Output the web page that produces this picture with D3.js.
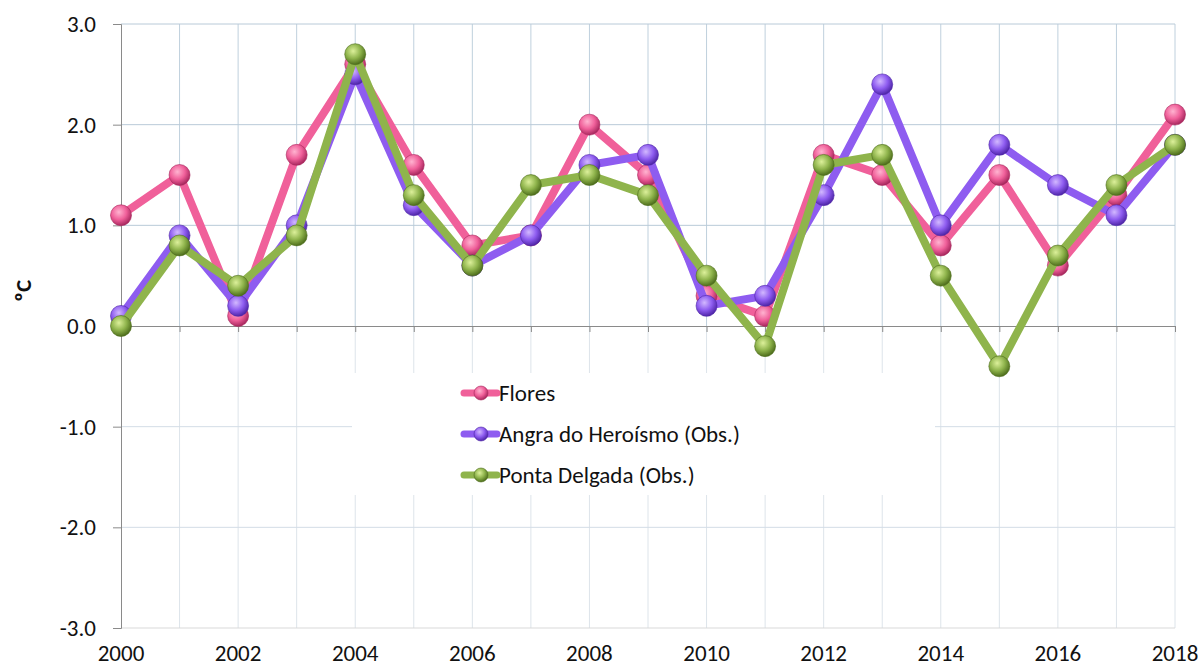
<!DOCTYPE html>
<html><head><meta charset="utf-8">
<script src="https://cdn.jsdelivr.net/npm/d3@7/dist/d3.min.js"></script>
<style>body{margin:0;background:#fff}svg{display:block}text{font-family:Carlito,"Liberation Sans",Arial,sans-serif}</style>
</head><body><svg id="c" width="1198" height="666"></svg>
<script>
const years = [2000,2001,2002,2003,2004,2005,2006,2007,2008,2009,2010,2011,2012,2013,2014,2015,2016,2017,2018];
const flores = [1.1,1.5,0.1,1.7,2.6,1.6,0.8,0.9,2.0,1.5,0.3,0.1,1.7,1.5,0.8,1.5,0.6,1.3,2.1];
const angra = [0.1,0.9,0.2,1.0,2.5,1.2,0.6,0.9,1.6,1.7,0.2,0.3,1.3,2.4,1.0,1.8,1.4,1.1,1.8];
const ponta = [0.0,0.8,0.4,0.9,2.7,1.3,0.6,1.4,1.5,1.3,0.5,-0.2,1.6,1.7,0.5,-0.4,0.7,1.4,1.8];
const seriesNames = ["Flores","Angra do Heroísmo (Obs.)","Ponta Delgada (Obs.)"];
const seriesColors = ["#f0609a","#8e5cf0","#8fb44c"];
const yTicks = [-3,-2,-1,0,1,2,3];
const xLabelYears = [2000,2002,2004,2006,2008,2010,2012,2014,2016,2018];

const svg = d3.select("#c");
const x = d3.scaleLinear().domain([2000,2018]).range([121,1175]);
const y = d3.scaleLinear().domain([-3,3]).range([628,24]);
const FS = 23;

const defs = svg.append("defs");
const shades = [["#ffb3d0","#f0609a","#a8285e"],["#d2b8ff","#8e5cf0","#4f26a8"],["#dcf09a","#8fb44c","#4e6e1c"]];
shades.forEach((s,i)=>{
  const g = defs.append("radialGradient").attr("id","g"+i).attr("cx","40%").attr("cy","35%").attr("r","65%");
  g.append("stop").attr("offset","0%").attr("stop-color",s[0]);
  g.append("stop").attr("offset","55%").attr("stop-color",s[1]);
  g.append("stop").attr("offset","100%").attr("stop-color",s[2]);
});

svg.append("g").selectAll("line").data(years.slice(1)).join("line")
  .attr("x1",d=>x(d)).attr("x2",d=>x(d)).attr("y1",y(3)).attr("y2",y(0))
  .attr("stroke","#bfd0dd").attr("stroke-width",1);
svg.append("g").selectAll("line").data(years.slice(1)).join("line")
  .attr("x1",d=>x(d)).attr("x2",d=>x(d)).attr("y1",y(0)).attr("y2",y(-3))
  .attr("stroke","#dde4ea").attr("stroke-width",1);
svg.append("g").selectAll("line").data([1,2,3,-1,-2]).join("line")
  .attr("x1",x(2000)).attr("x2",x(2018)).attr("y1",d=>y(d)).attr("y2",d=>y(d))
  .attr("stroke",d=>d>0?"#b9cad8":"#d3dde6").attr("stroke-width",1);
svg.append("line").attr("x1",x(2000)).attr("x2",x(2018)).attr("y1",y(-3)).attr("y2",y(-3))
  .attr("stroke","#d9d9d9");

const fmt = d => d.toFixed(1);
const yAxis = d3.axisLeft(y).tickValues(yTicks).tickFormat(fmt).tickSize(8).tickPadding(17);
const ya = svg.append("g").attr("transform",`translate(${x(2000)},0)`).call(yAxis);
ya.select(".domain").attr("stroke","#8a8a8a");
ya.selectAll(".tick line").attr("stroke","#8a8a8a");
ya.selectAll("text").attr("font-size",FS).attr("fill","#111").style("font-family",'Carlito,"Liberation Sans",Arial,sans-serif');

const xAxis = d3.axisBottom(x).tickValues(years).tickFormat("").tickSize(6);
const xa = svg.append("g").attr("transform",`translate(0,${y(0)})`).call(xAxis);
xa.select(".domain").attr("stroke","#8a8a8a");
xa.selectAll(".tick line").attr("stroke","#8a8a8a");

svg.append("g").selectAll("text").data(xLabelYears).join("text")
  .attr("x",d=>x(d)).attr("y",661).attr("text-anchor","middle")
  .attr("font-size",FS).attr("fill","#111").text(d=>d);

svg.append("text").attr("transform","translate(31,291) rotate(-90)").attr("text-anchor","middle")
  .attr("font-size",FS).attr("font-weight","bold").attr("fill","#111").text("ºC");

svg.append("rect").attr("x",352).attr("y",373).attr("width",583).attr("height",122).attr("fill","#fff");

const allData = [flores,angra,ponta];
const line = d3.line().x((d,i)=>x(years[i])).y(d=>y(d));
allData.forEach((vals,i)=>{
  const g = svg.append("g");
  g.append("path").datum(vals).attr("d",line).attr("fill","none")
    .attr("stroke",seriesColors[i]).attr("stroke-width",8).attr("stroke-linejoin","round");
  g.selectAll("circle").data(vals).join("circle")
    .attr("cx",(d,j)=>x(years[j])).attr("cy",d=>y(d)).attr("r",10.5)
    .attr("fill",`url(#g${i})`).attr("stroke",shades[i][2]).attr("stroke-opacity",0.6).attr("stroke-width",1);
});

const lg = svg.append("g");
const legY = [393,434,475];
seriesNames.forEach((n,i)=>{
  lg.append("line").attr("x1",464).attr("x2",497).attr("y1",legY[i]).attr("y2",legY[i])
    .attr("stroke",seriesColors[i]).attr("stroke-width",7).attr("stroke-linecap","round");
  lg.append("circle").attr("cx",481).attr("cy",legY[i]).attr("r",7)
    .attr("fill",`url(#g${i})`).attr("stroke",shades[i][2]).attr("stroke-opacity",0.6);
  lg.append("text").attr("x",499).attr("y",legY[i]+8).attr("font-size",FS).attr("fill","#111").text(n);
});
</script></body></html>
